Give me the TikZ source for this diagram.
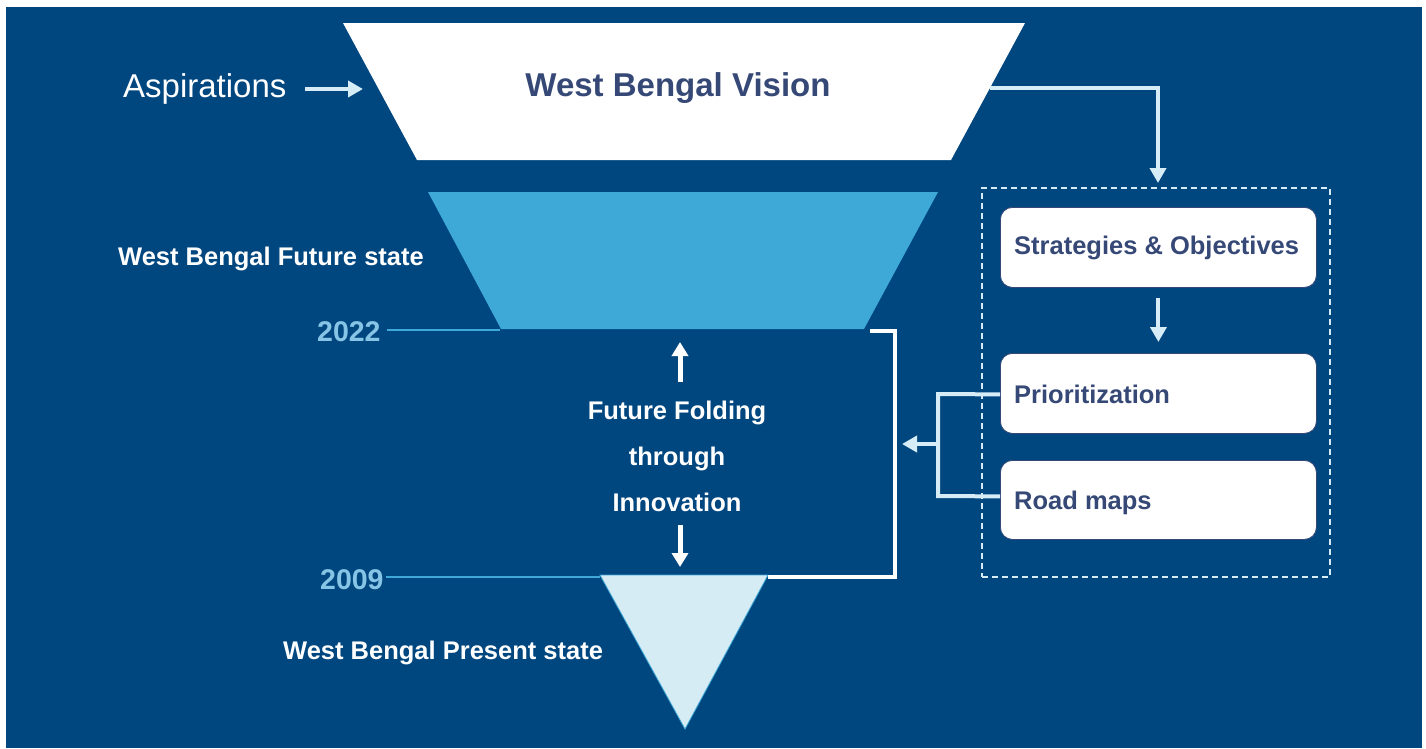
\documentclass[tikz,border=0pt]{standalone}
\usepackage{fontspec}
\setmainfont{Liberation Sans}
\usetikzlibrary{arrows.meta,calc}
\definecolor{bg}{RGB}{0,70,127}
\definecolor{lb}{RGB}{214,236,246}
\definecolor{mid}{RGB}{62,168,214}
\definecolor{tri}{RGB}{214,236,245}
\definecolor{yr}{RGB}{135,197,230}
\definecolor{dk}{RGB}{53,72,118}
\tikzset{
  larrow/.style={draw=lb, line width=4pt, -{Triangle[length=15pt,width=16pt]}},
  warrow/.style={draw=white, line width=5pt, -{Triangle[length=14pt,width=16pt]}},
  lline/.style={draw=lb, line width=4pt},
  yline/.style={draw=mid, line width=1.5pt},
  bigtxt/.style={inner sep=0pt, font=\fontsize{33}{39}\selectfont\bfseries, text=dk},
  wtxt/.style={inner sep=0pt, font=\fontsize{25.5}{30}\selectfont\bfseries, text=white},
  btxt/.style={inner sep=0pt, font=\fontsize{25.5}{30}\selectfont\bfseries, text=dk},
  ytxt/.style={inner sep=0pt, font=\fontsize{28.5}{34}\selectfont\bfseries, text=yr},
  boxnode/.style={draw=dk, line width=0.8pt, fill=white, rounded corners=12pt, minimum width=316pt, inner sep=0pt},
  grpbox/.style={draw=lb, line width=1.3pt, dash pattern=on 6pt off 4pt, minimum width=348pt, minimum height=389pt, inner sep=0pt}
}
\begin{document}
\begin{tikzpicture}[x=1pt,y=-1pt]
\useasboundingbox (0,0) rectangle (1426,748);
\fill[white] (0,0) rectangle (1426,748);
\fill[bg] (6,7) rectangle (1422,748);
% funnel shapes
\fill[white] (343,23) -- (1025,23) -- (951,160) -- (417,160) -- cycle;
\fill[mid] (428,192) -- (938,192) -- (864,329) -- (501,329) -- cycle;
\filldraw[fill=tri, draw=mid, line width=0.8pt] (600,575) -- (768,575) -- (685,729) -- cycle;
% texts
\node[bigtxt, anchor=base] (vision) at (678,96) {West Bengal Vision};
\node[inner sep=0pt, anchor=base west, font=\fontsize{33}{40}\selectfont, text=white] (asp) at (123,97) {Aspirations};
\node[wtxt, anchor=base west] (future) at (118,265) {West Bengal Future state};
\node[wtxt, anchor=base west] (present) at (283,659) {West Bengal Present state};
\node[ytxt, anchor=base west] (y22) at (317,341) {2022};
\node[ytxt, anchor=base west] (y09) at (320,589) {2009};
\node[wtxt, anchor=base] (ff1) at (677,419) {Future Folding};
\node[wtxt, anchor=base] (ff2) at (677,465) {through};
\node[wtxt, anchor=base] (ff3) at (677,511) {Innovation};
% year lines
\coordinate (l22a) at (387,330); \coordinate (l22b) at (500,330);
\coordinate (l09a) at (386,577); \coordinate (l09b) at (600,577);
\draw[yline] (l22a) -- (l22b);
\draw[yline] (l09a) -- (l09b);
% aspirations arrow
\coordinate (aspS) at (305,89); \coordinate (aspE) at (363,89);
\draw[larrow] (aspS) -- (aspE);
% bracket
\coordinate (brA) at (768,577); \coordinate (brB) at (895,577);
\coordinate (brC) at (895,331); \coordinate (brD) at (870,331);
\draw[draw=white, line width=4pt] (brA) -- (brB) -- (brC) -- (brD);
% folding arrows
\coordinate (upS) at (680,382); \coordinate (upE) at (680,342);
\coordinate (dnS) at (680,525); \coordinate (dnE) at (680,567);
\draw[warrow] (upS) -- (upE);
\draw[warrow] (dnS) -- (dnE);
% right group
\node[grpbox] (grp) at (1156,382.5) {};
\node[boxnode, anchor=north west, minimum height=80pt] (b1) at (1000,207) {};
\node[boxnode, anchor=north west, minimum height=80pt] (b2) at (1000,353) {};
\node[boxnode, anchor=north west, minimum height=79pt] (b3) at (1000,460) {};
\node[btxt, anchor=base west] (t1) at (1014,254) {Strategies \& Objectives};
\node[btxt, anchor=base west] (t2) at (1014,403) {Prioritization};
\node[btxt, anchor=base west] (t3) at (1014,509) {Road maps};
% vision to group
\coordinate (vR) at (990,88); \coordinate (vC) at (1158,88); \coordinate (vE) at (1158,183);
\draw[larrow] (vR) -- (vC) -- (vE);
% b1 to b2
\draw[larrow, shorten <=10pt, shorten >=11pt] (b1.south) -- (b2.north);
% boxes to bracket
\coordinate (jT) at (938,394); \coordinate (jB) at (938,496);
\coordinate (jM) at (938,444); \coordinate (jE) at (902,444);
\draw[lline] ($(b2.west)+(0,1)$) -- (jT) -- (jB) -- ($(b3.west)+(0,-3.5)$);
\draw[larrow] (jM) -- (jE);
\end{tikzpicture}
\end{document}
